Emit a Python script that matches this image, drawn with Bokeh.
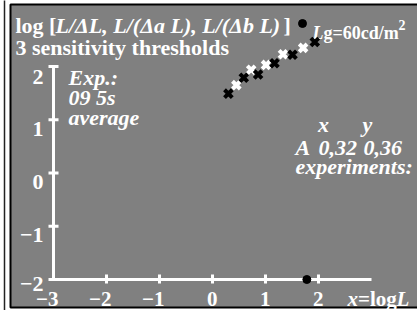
from bokeh.plotting import figure
from bokeh.models import Range1d
from bokeh.core.properties import value
from bokeh.embed import file_html
from bokeh.resources import INLINE

# ---- data ----
black_x = [0.30, 0.59, 0.86, 1.17, 1.51, 1.93]
black_y = [1.49, 1.79, 1.85, 2.06, 2.22, 2.46]
white_x = [0.45, 0.73, 1.01, 1.33, 1.71]
white_y = [1.65, 1.94, 2.03, 2.23, 2.35]
lg_value = [1.78]          # log10(60 cd/m2)
x_ticks = [-3, -2, -1, 0, 1, 2]
y_ticks = [-2, -1, 0, 1, 2]
x_tick_labels = ["\u22123", "\u22122", "\u22121", "0", "1", "2"]
y_tick_labels = ["\u22122", "\u22121", "0", "1", "2"]
x_axis_end = 3

# ---- layout (picture pixels -> data) ----
W, H = 417, 310
SX, SY = 53.0, 53.25        # px per unit
OX, OY = 212.0, 172.5       # pixel of data origin
X0, X1 = -OX / SX, (W - OX) / SX
Y0, Y1 = (OY - H) / SY, OY / SY


def X(px):
    return (px - OX) / SX


def Y(py):
    return (OY - py) / SY


p = figure(width=W, height=H, output_backend="svg", toolbar_location=None,
           x_range=Range1d(X0, X1), y_range=Range1d(Y0, Y1),
           x_axis_type=None, y_axis_type=None,
           min_border_left=0, min_border_right=0, min_border_top=0, min_border_bottom=0)
p.background_fill_color = "white"
p.border_fill_color = "white"
p.outline_line_color = None
p.grid.visible = False

# frame decoration: thin left rule and gray panel
p.segment(x0=[X(4)], y0=[Y(-5)], x1=[X(4)], y1=[Y(H + 5)], line_color="#222222", line_width=1.5)
p.quad(left=[X(10)], right=[X(W + 10)], top=[Y(4)], bottom=[Y(307)],
       fill_color="#808080", line_color="black", line_width=2)

FONT = value("Liberation Serif")
WHITE = "white"
FS = "22px"

# axes
xmin, ymin = x_ticks[0], y_ticks[0]
p.segment(x0=[xmin], y0=[ymin], x1=[x_axis_end], y1=[ymin], line_color=WHITE, line_width=3)
p.segment(x0=[xmin], y0=[ymin], x1=[xmin], y1=[y_ticks[-1]], line_color=WHITE, line_width=3)
tx = x_ticks[1:]
p.segment(x0=tx, y0=[ymin + 5 / SY] * len(tx), x1=tx, y1=[ymin - 4 / SY] * len(tx),
          line_color=WHITE, line_width=3)
p.segment(x0=[xmin - 5 / SX] * len(y_ticks), y0=y_ticks, x1=[xmin + 5 / SX] * len(y_ticks), y1=y_ticks,
          line_color=WHITE, line_width=3)

# tick labels
p.text(x=[t + 5 / SX for t in x_ticks], y=[Y(298)] * len(x_ticks), text=x_tick_labels,
       text_font=FONT, text_font_style="bold", text_font_size="21px", text_color=WHITE,
       text_align="right", text_baseline="alphabetic")
yoff = [4, 9, 9, 9, 10]
p.text(x=[X(43)] * len(y_ticks), y=[t - o / SY for t, o in zip(y_ticks, yoff)], text=y_tick_labels,
       text_font=FONT, text_font_style="bold", text_font_size=FS, text_color=WHITE,
       text_align="right", text_baseline="alphabetic")


def lab(px, py, s, style="bold", size=FS, align="left"):
    p.text(x=[X(px)], y=[Y(py)], text=[s], text_font=FONT, text_font_style=style,
           text_font_size=size, text_color=WHITE, text_align=align, text_baseline="alphabetic")


# title
lab(15, 25, "log [")
lab(55, 25, "L/\u0394L, L/(\u0394a L), L/(\u0394b L)", style="bold italic")
lab(283, 25, "]")
lab(15, 47, "3 sensitivity thresholds")
lab(312, 32, "L", style="bold italic", size="18px")
lab(323, 32, "g=60cd/m", size="18px")
lab(398, 24, "2", size="14px")

# left notes
lab(68, 77, "Exp.:", style="bold italic")
lab(68, 97, "09 5s", style="bold italic")
lab(68, 117, "average", style="bold italic")

# right notes
lab(323, 124, "x", style="bold italic", align="center")
lab(367, 124, "y", style="bold italic", align="center")
lab(295, 147, "A", style="bold italic")
lab(318, 147, "0,32", style="bold italic")
lab(363, 147, "0,36", style="bold italic")
lab(295, 166, "experiments:", style="bold italic")

# x axis title
lab(347, 298, "x", style="bold italic", size="21px")
lab(357.5, 298, "=log", size="21px")
lab(396, 298, "L", style="bold italic", size="21px")

# markers
p.scatter(x=[X(302)], y=[Y(23)], marker="circle", size=8, fill_color="black", line_color="black")
p.scatter(x=lg_value, y=[ymin], marker="circle", size=8, fill_color="black", line_color="black")
p.scatter(x=white_x, y=white_y, marker="x", size=11, line_width=4, line_color="white")
p.scatter(x=black_x, y=black_y, marker="x", size=11, line_width=4, line_color="black")

open("out.html", "w").write(file_html(p, INLINE))
